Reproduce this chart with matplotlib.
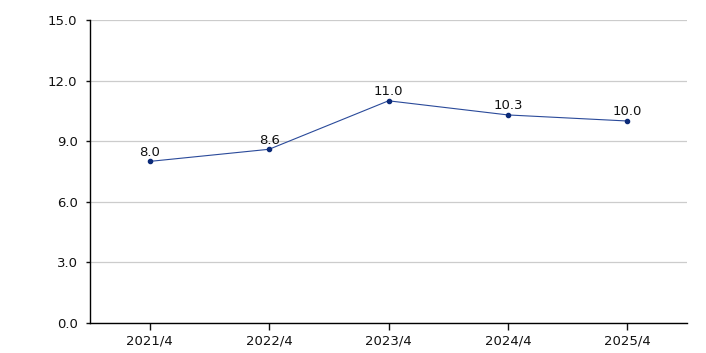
import matplotlib
matplotlib.use('Agg')
import matplotlib.pyplot as plt

# chart data
periods = ['2021/4', '2022/4', '2023/4', '2024/4', '2025/4']
values = [8.0, 8.6, 11.0, 10.3, 10.0]
y_ticks = [0.0, 3.0, 6.0, 9.0, 12.0, 15.0]

plt.rcParams['font.family'] = ['DejaVu Sans']

fig = plt.figure(figsize=(7.06, 3.53), dpi=100)
ax = fig.add_axes([90/706, 1 - 323/353, 597/706, 303/353])

x = list(range(len(periods)))
ax.plot(x, values, color='#2a4a9a', linewidth=0.8, marker='o', markersize=3,
        markerfacecolor='#0b2a78', markeredgecolor='#0b2a78', zorder=3)

for xi, v in zip(x, values):
    ax.annotate(f'{v:.1f}', (xi, v), xytext=(0, 2), textcoords='offset points',
                ha='center', va='bottom', fontsize=9.5, color='#111111')

ax.set_xlim(-0.5, len(periods) - 0.5)
ax.set_ylim(0, 15)
ax.set_yticks(y_ticks)
ax.set_yticklabels([f'{t:.1f}' for t in y_ticks])
ax.set_xticks(x)
ax.set_xticklabels(periods)

ax.grid(axis='y', color='#cccccc', linewidth=0.9)
ax.set_axisbelow(True)
for side in ['top', 'right']:
    ax.spines[side].set_visible(False)
ax.spines['left'].set_color('#000000')
ax.spines['bottom'].set_color('#000000')
ax.spines['left'].set_linewidth(1)
ax.spines['bottom'].set_linewidth(1)
ax.tick_params(axis='y', length=3, width=1, labelsize=9.5, pad=6, colors='#111111')
ax.tick_params(axis='x', length=5, width=1, labelsize=9.5, pad=3, colors='#111111')

fig.savefig('out.png', dpi=100, facecolor='white')
